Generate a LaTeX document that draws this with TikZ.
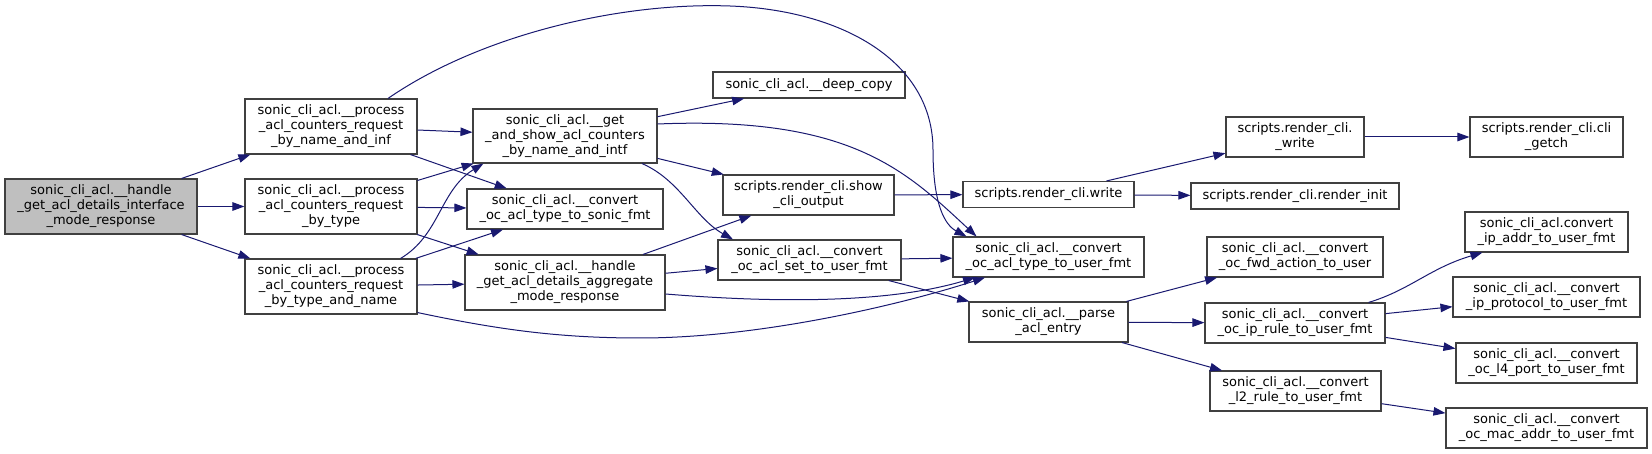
\documentclass[tikz,border=0pt]{standalone}
\usepackage{fontspec}
\setmainfont{DejaVu Sans}
\usetikzlibrary{arrows.meta}
\definecolor{edgeblue}{RGB}{25,25,112}
\definecolor{boxline}{RGB}{64,64,64}
\definecolor{mainfill}{RGB}{191,191,191}
\tikzset{
  box/.style={draw=boxline, line width=1.1pt, fill=white, rectangle, inner sep=0pt,
    align=center, font=\fontsize{13}{15}\selectfont},
  edge/.style={draw=edgeblue, line width=1pt, -{Triangle[length=12pt,width=8.5pt,fill=edgeblue]}},
}
\begin{document}
\begin{tikzpicture}[x=1pt,y=-1pt]
\useasboundingbox (0,0) rectangle (1652,454);

% nodes
\node[box, fill=mainfill, minimum width=192, minimum height=55] (main) at (101,206.5) {sonic\_cli\_acl.\_\_handle\\\_get\_acl\_details\_interface\\\_mode\_response};
\node[box, minimum width=172, minimum height=55] (P1) at (331,126.5) {sonic\_cli\_acl.\_\_process\\\_acl\_counters\_request\\\_by\_name\_and\_inf};
\node[box, minimum width=172, minimum height=55] (P2) at (331,206.5) {sonic\_cli\_acl.\_\_process\\\_acl\_counters\_request\\\_by\_type};
\node[box, minimum width=172, minimum height=55] (P3) at (331,286.5) {sonic\_cli\_acl.\_\_process\\\_acl\_counters\_request\\\_by\_type\_and\_name};
\node[box, minimum width=184, minimum height=54] (G) at (565,136) {sonic\_cli\_acl.\_\_get\\\_and\_show\_acl\_counters\\\_by\_name\_and\_intf};
\node[box, minimum width=196, minimum height=40] (CS) at (565,209) {sonic\_cli\_acl.\_\_convert\\\_oc\_acl\_type\_to\_sonic\_fmt};
\node[box, minimum width=200, minimum height=55] (H) at (565,282.5) {sonic\_cli\_acl.\_\_handle\\\_get\_acl\_details\_aggregate\\\_mode\_response};
\node[box, minimum width=192, minimum height=26] (DC) at (809,85) {sonic\_cli\_acl.\_\_deep\_copy};
\node[box, minimum width=171, minimum height=40] (SO) at (808.5,195) {scripts.render\_cli.show\\\_cli\_output};
\node[box, minimum width=183, minimum height=40] (SET) at (809.5,260) {sonic\_cli\_acl.\_\_convert\\\_oc\_acl\_set\_to\_user\_fmt};
\node[box, minimum width=171, minimum height=26] (W) at (1048.5,194.5) {scripts.render\_cli.write};
\node[box, minimum width=191, minimum height=40] (UT) at (1048.5,257) {sonic\_cli\_acl.\_\_convert\\\_oc\_acl\_type\_to\_user\_fmt};
\node[box, minimum width=159, minimum height=40] (PA) at (1048.5,322) {sonic\_cli\_acl.\_\_parse\\\_acl\_entry};
\node[box, minimum width=138, minimum height=40] (UW) at (1295,137) {scripts.render\_cli.\\\_write};
\node[box, minimum width=208, minimum height=26] (RI) at (1295,196) {scripts.render\_cli.render\_init};
\node[box, minimum width=176, minimum height=40] (FWD) at (1295,257) {sonic\_cli\_acl.\_\_convert\\\_oc\_fwd\_action\_to\_user};
\node[box, minimum width=180, minimum height=40] (IPR) at (1295,323) {sonic\_cli\_acl.\_\_convert\\\_oc\_ip\_rule\_to\_user\_fmt};
\node[box, minimum width=171, minimum height=40] (L2) at (1295.5,391) {sonic\_cli\_acl.\_\_convert\\\_l2\_rule\_to\_user\_fmt};
\node[box, minimum width=153, minimum height=40] (GETCH) at (1546.5,137) {scripts.render\_cli.cli\\\_getch};
\node[box, minimum width=163, minimum height=40] (IPA) at (1546.5,232) {sonic\_cli\_acl.convert\\\_ip\_addr\_to\_user\_fmt};
\node[box, minimum width=187, minimum height=40] (IPP) at (1546.5,297) {sonic\_cli\_acl.\_\_convert\\\_ip\_protocol\_to\_user\_fmt};
\node[box, minimum width=181, minimum height=40] (L4) at (1546.5,363) {sonic\_cli\_acl.\_\_convert\\\_oc\_l4\_port\_to\_user\_fmt};
\node[box, minimum width=201, minimum height=40] (MAC) at (1546.5,428) {sonic\_cli\_acl.\_\_convert\\\_oc\_mac\_addr\_to\_user\_fmt};

% straight edges
\draw[edge] (main) -- (P1);
\draw[edge] (main) -- (P2);
\draw[edge] (main) -- (P3);
\draw[edge] (P1) -- (G);
\draw[edge] (P1) -- (CS);
\draw[edge] (P2) -- (G);
\draw[edge] (P2) -- (CS);
\draw[edge] (P2) -- (H);
\draw[edge] (P3) -- (CS);
\draw[edge] (P3) -- (H);
\draw[edge] (G) -- (DC);
\draw[edge] (G) -- (SO);
\draw[edge] (H) -- (SO);
\draw[edge] (H) -- (SET);
\draw[edge] (SO) -- (W);
\draw[edge] (SET) -- (UT);
\draw[edge] (SET) -- (PA);
\draw[edge] (W) -- (UW);
\draw[edge] (W) -- (RI);
\draw[edge] (UW) -- (GETCH);
\draw[edge] (PA) -- (FWD);
\draw[edge] (PA) -- (IPR);
\draw[edge] (PA) -- (L2);
\draw[edge] (IPR) -- (IPP);
\draw[edge] (IPR) -- (L4);
\draw[edge] (L2) -- (MAC);

% curved edges
\draw[edge] ([xshift=57pt]P1.north) .. controls (480,35) and (620,2) .. (730,6)
  .. controls (840,10) and (933,60) .. (933,150)
  .. controls (933,205) and (945,225) .. ([xshift=-82pt]UT.north);
\draw[edge] ([yshift=12pt]G.east) .. controls (850,116) and (905,170) .. ([xshift=-72pt]UT.north);
\draw[edge] ([xshift=77pt]G.south) .. controls (680,180) and (695,218) .. ([xshift=-76.5pt]SET.north);
\draw[edge] ([yshift=-11.5pt]H.east) .. controls (800,305) and (900,300) .. ([xshift=-73.5pt]UT.south);
\draw[edge] ([yshift=2pt]P3.south east) .. controls (500,330) and (560,338) .. (640,338)
  .. controls (760,338) and (900,305) .. ([xshift=-63.5pt]UT.south);
\draw[edge] ([xshift=-17pt]P3.north east) .. controls (440,235) and (440,190) .. ([xshift=11pt]G.south west);
\draw[edge] ([xshift=-17pt]IPR.north east) .. controls (1410,290) and (1430,268) .. ([xshift=18pt]IPA.south west);
\end{tikzpicture}
\end{document}
